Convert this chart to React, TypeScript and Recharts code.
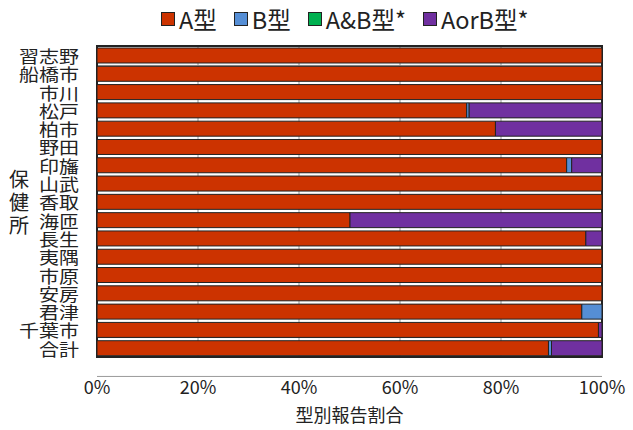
import { BarChart, Bar, XAxis, YAxis, CartesianGrid, Legend, ReferenceArea } from 'recharts';

const categories = ['習志野', '船橋市', '市川', '松戸', '柏市', '野田', '印旛', '山武', '香取', '海匝', '長生', '夷隅', '市原', '安房', '君津', '千葉市', '合計'];
const typeA = [100, 100, 100, 73.2, 78.9, 100, 93.0, 100, 100, 50.1, 96.8, 100, 100, 100, 96.0, 99.3, 89.4];
const typeB = [0, 0, 0, 0.5, 0, 0, 1.0, 0, 0, 0, 0, 0, 0, 0, 4.0, 0, 0.6];
const typeAB = [0, 0, 0, 0, 0, 0, 0, 0, 0, 0, 0, 0, 0, 0, 0, 0, 0];
const typeAorB = [0, 0, 0, 26.3, 21.1, 0, 6.0, 0, 0, 49.9, 3.2, 0, 0, 0, 0, 0.7, 10.0];
const seriesKeys = ['A', 'B', 'AB', 'AorB'];
const seriesNames = ['A型', 'B型', 'A&B型*', 'AorB型*'];
const seriesColors = ['#CC3300', '#558ED5', '#00B050', '#7030A0'];
const xTicks = [0, 20, 40, 60, 80, 100];
const boundaryTicks = categories.map((_, i) => i).concat([categories.length]);

const data = categories.map((name, i) => ({
  name,
  A: typeA[i],
  B: typeB[i],
  AB: typeAB[i],
  AorB: typeAorB[i],
}));

const FONT = '"Noto Sans CJK JP", "Noto Sans", sans-serif';

// labels in the original are squashed vertically so they fit the 18px rows
const CategoryTick = ({ x, y, payload }: any) => (
  <g transform={`translate(${x},${y}) scale(1,0.86)`}>
    <text x={0} y={0} textAnchor="end" dominantBaseline="central" fontSize={20} fill="#222" fontFamily={FONT}>
      {payload.value}
    </text>
  </g>
);

const AxisTitle = ({ viewBox }: any) => {
  const cx = viewBox.x + 19;
  const cy = viewBox.y + viewBox.height / 2;
  return (
    <text x={cx} y={cy} textAnchor="middle" fontSize={20} fill="#222" fontFamily={FONT}>
      {['保', '健', '所'].map((c, i) => (
        <tspan key={i} x={cx} y={cy + (i - 1) * 23} dominantBaseline="central">{c}</tspan>
      ))}
    </text>
  );
};

const LegendContent = () => (
  <div style={{ display: 'flex', alignItems: 'center', height: 30, paddingLeft: 161, fontFamily: FONT, fontSize: 23.5, color: '#222' }}>
    {seriesNames.map((name, i) => (
      <div key={name} style={{ display: 'flex', alignItems: 'center', marginRight: 17 }}>
        <span style={{ width: 12, height: 12, background: seriesColors[i], border: '1px solid #222', marginRight: 4 }} />
        <span>{name}</span>
      </div>
    ))}
  </div>
);

export default function App() {
  return (
    <div style={{ position: 'absolute', left: 0, top: 0, background: '#fff' }}>
      <BarChart
        width={633}
        height={430}
        data={data}
        layout="vertical"
        margin={{ top: 16, right: 31, bottom: 0, left: 0 }}
        barSize={15}
      >
        <CartesianGrid yAxisId="grid" stroke="#999" strokeWidth={1} />
        <XAxis
          type="number"
          domain={[0, 100]}
          ticks={xTicks}
          tickFormatter={(v) => `${v}%`}
          axisLine={false}
          tickLine={false}
          tickSize={0}
          tickMargin={24}
          height={73}
          tick={{ fontSize: 18, fill: '#222', fontFamily: FONT }}
          label={{ value: '型別報告割合', position: 'insideBottom', offset: 8, fontSize: 18, fill: '#222', fontFamily: FONT }}
        />
        <YAxis
          yAxisId="grid"
          type="number"
          domain={[0, categories.length]}
          ticks={boundaryTicks}
          width={0}
          mirror
          tickSize={7}
          tickLine={{ stroke: '#333', strokeWidth: 2 }}
          axisLine={false}
          tickFormatter={() => ''}
        />
        <YAxis
          type="category"
          dataKey="name"
          width={97}
          axisLine={false}
          tickLine={false}
          tickSize={0}
          tickMargin={18}
          interval={0}
          tick={<CategoryTick />}
          label={{ content: <AxisTitle /> }}
        />
        <Legend verticalAlign="top" wrapperStyle={{ top: 4, left: 0, width: 633 }} content={<LegendContent />} />
        {seriesKeys.map((key, i) => (
          <Bar
            key={key}
            dataKey={key}
            name={seriesNames[i]}
            stackId="s"
            fill={seriesColors[i]}
            stroke="#222"
            strokeWidth={1}
            isAnimationActive={false}
          />
        ))}
        <ReferenceArea x1={0} x2={100} fill="none" stroke="#222" strokeWidth={2} ifOverflow="visible" />
      </BarChart>
    </div>
  );
}
